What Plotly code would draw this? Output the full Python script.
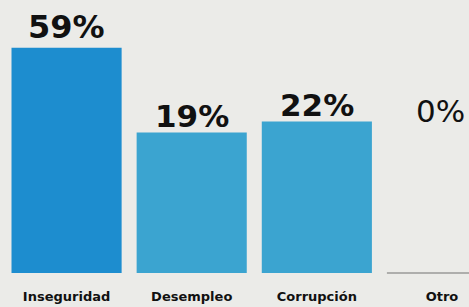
import math
import plotly.graph_objects as go

categories = ["Inseguridad", "Desempleo", "Corrupción", "Otro"]
values = [59, 19, 22, 0]
labels = ["59%", "19%", "22%", "0%"]

bar_colors = ["#1d8dcf", "#3ba4d0", "#3ba4d0", "#3ba4d0"]
label_weights = ["bold", "bold", "bold", "normal"]
label_sizes = [32, 31, 31, 31]
label_shifts = [0, -3, -3, 0]
bg = "#ebebe8"
font_family = "DejaVu Sans"

fig = go.Figure()
fig.add_trace(go.Bar(
    x=categories,
    y=values,
    marker=dict(color=bar_colors, line=dict(width=0)),
    hoverinfo="skip",
))

# value labels
for cat, v, lab, w, sz, s in zip(categories, values, labels, label_weights, label_sizes, label_shifts):
    if v > 0:
        fig.add_annotation(x=cat, y=math.log10(v), xref="x", yref="y",
                           text=lab, showarrow=False, yanchor="bottom", yshift=s,
                           font=dict(family=font_family, size=sz, color="#111111", weight=w))
    else:
        fig.add_annotation(x=cat, y=0.52, xref="x", yref="paper",
                           text=lab, showarrow=False, yanchor="bottom", xshift=-1,
                           font=dict(family=font_family, size=sz, color="#111111", weight=w))

# thin baseline under the empty category
otro_idx = categories.index("Otro")
fig.add_shape(type="line", xref="x", yref="paper",
              x0=otro_idx - 0.44, x1=otro_idx + 0.6, y0=0, y1=0,
              line=dict(color="#9a9a98", width=1.5))

fig.update_layout(
    width=469, height=307,
    margin=dict(l=4, r=0, t=0, b=34),
    paper_bgcolor=bg, plot_bgcolor=bg,
    bargap=0.12,
    showlegend=False,
    xaxis=dict(range=[-0.5, 3.216], showgrid=False, zeroline=False, showline=False,
               ticks="", ticklabelstandoff=14,
               tickfont=dict(family=font_family, size=13, color="#111111", weight="bold")),
    yaxis=dict(type="log", range=[0.462, 2.049], visible=False, showgrid=False),
)

fig.write_html("out.html", config={"displayModeBar": False},
               post_script="document.body.style.margin='0';document.body.style.background='%s';" % bg)
